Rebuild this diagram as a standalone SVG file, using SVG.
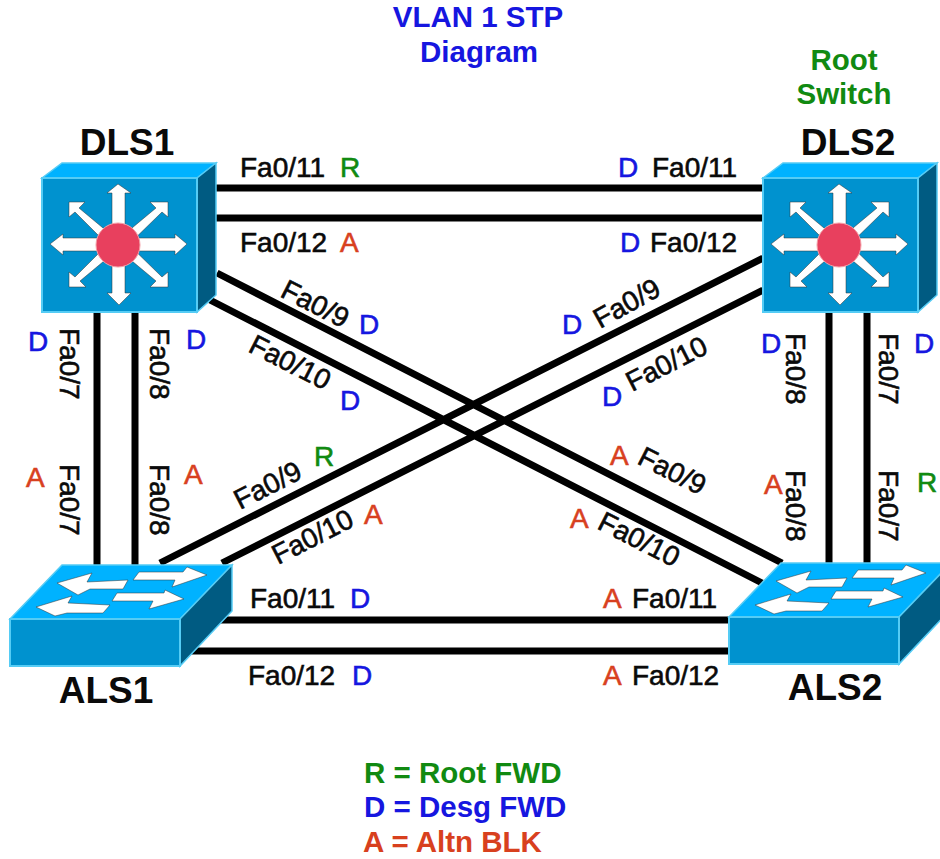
<svg xmlns="http://www.w3.org/2000/svg" width="940" height="859" viewBox="0 0 940 859">
<style>
text{font-family:"Liberation Sans",Arial,sans-serif}
.n{font-size:37px;font-weight:bold;fill:#0a0a0a;text-anchor:middle}
.l{font-size:28px;fill:#0a0a0a;stroke:#0a0a0a;stroke-width:.6}
.b{fill:#1616e0;stroke:#1616e0}.g{fill:#118a11;stroke:#118a11}.r{fill:#d8401e;stroke:#d8401e}
.h{font-size:29.5px;font-weight:bold;text-anchor:middle}
.s{text-anchor:start}
.c{stroke:#000;stroke-width:7;fill:none}
.top{fill:#00b2ff;stroke:#55ccf5;stroke-width:1.5}
.front{fill:#0092cf;stroke:#55ccf5;stroke-width:2}
.side{fill:#005b82;stroke:#55ccf5;stroke-width:1.5}
.ar{fill:#fff;stroke:#333;stroke-width:.5}
</style>
<defs>
<g id="ml">
<polygon class="top" points="42,178 62,163 216,163 197,178"/>
<polygon class="side" points="197,178 216,163 216,295 197,312"/>
<rect class="front" x="42" y="178" width="155" height="134"/>
<polygon class="ar" points="118,184 131,193 125,193 125,245 112,245 112,193 107,193"/>
<polygon class="ar" points="119,305 131,293 125,293 125,245 112,245 112,293 107,293"/>
<polygon class="ar" points="50,244 63,234 63,238 118,238 118,251 63,251 63,255"/>
<polygon class="ar" points="187,244 175,234 175,238 118,238 118,251 175,251 175,255"/>
<polygon class="ar" points="69,202 85,202 79,208 121,243 114,251 75,212 69,217"/>
<polygon class="ar" points="168,202 150,202 156,208 114,243 122,251 162,212 168,217"/>
<polygon class="ar" points="69,287 86,287 80,281 122,246 114,238 75,277 69,272"/>
<polygon class="ar" points="168,287 150,287 156,281 114,246 122,238 162,277 168,272"/>
<circle cx="118" cy="245" r="22" fill="#e8405e" stroke="#f4a0a8" stroke-width="1"/>
</g>
<g id="sw">
<polygon class="top" points="10,619 62,565 232,565 180,619"/>
<polygon class="side" points="180,619 232,565 232,611 180,666"/>
<rect class="front" x="10" y="619" width="170" height="47"/>
<polygon class="ar" points="57,583 92,573 87,582 128,580 123,589 90,589 78,595"/>
<polygon class="ar" points="36,607 72,596 68,603 110,605 103,613 67,613 55,616"/>
<polygon class="ar" points="207,575 187,567 183,572 139,572 133,580 175,580 172,587"/>
<polygon class="ar" points="184,599 165,590 164,593 117,593 112,601 153,601 149,609"/>
</g>
</defs>
<g id="connectors">
<path class="c" d="M216 188H763M216 218H763M220 620H730M190 651H730M97 312V565M135 312V565M829 312V563M867 312V563M217 273L782 563M210 300L762 583M763 258L160 563M763 290L222 563"/>
</g>
<g id="DLS1"><use href="#ml"/><text class="n" x="127" y="155">DLS1</text></g>
<g id="DLS2"><use href="#ml" x="721"/><text class="n" x="848" y="155">DLS2</text></g>
<g id="ALS1"><use href="#sw"/><text class="n" x="106" y="703">ALS1</text></g>
<g id="ALS2"><use href="#sw" x="719" y="-2"/><text class="n" x="835" y="700">ALS2</text></g>
<g id="labels">
<text class="h" fill="#1616e0" x="478" y="27">VLAN 1 STP</text>
<text class="h" fill="#1616e0" x="479" y="62">Diagram</text>
<text class="h" fill="#118a11" x="844" y="70">Root</text>
<text class="h" fill="#118a11" x="844" y="104">Switch</text>
<text class="h s" fill="#118a11" x="364" y="783">R = Root FWD</text>
<text class="h s" fill="#1616e0" x="364" y="817">D = Desg FWD</text>
<text class="h s" fill="#d8401e" x="363" y="852">A = Altn BLK</text>

<text class="l" x="240" y="177">Fa0/11</text><text class="l g" x="340" y="177">R</text>
<text class="l b" x="618" y="177">D</text><text class="l" x="652" y="177">Fa0/11</text>
<text class="l" x="240" y="252">Fa0/12</text><text class="l r" x="340" y="252">A</text>
<text class="l b" x="620" y="252">D</text><text class="l" x="650" y="252">Fa0/12</text>
<text class="l" x="250" y="608">Fa0/11</text><text class="l b" x="350" y="608">D</text>
<text class="l r" x="603" y="608">A</text><text class="l" x="632" y="608">Fa0/11</text>
<text class="l" x="248" y="685">Fa0/12</text><text class="l b" x="352" y="685">D</text>
<text class="l r" x="603" y="685">A</text><text class="l" x="632" y="685">Fa0/12</text>

<text class="l b" x="28" y="351">D</text><text class="l b" x="186" y="349">D</text>
<text class="l r" x="26" y="487">A</text><text class="l r" x="184" y="484">A</text>
<text class="l b" x="761" y="353">D</text><text class="l b" x="914" y="353">D</text>
<text class="l r" x="764" y="494">A</text><text class="l g" x="917" y="492">R</text>
<text class="l" transform="translate(60,328) rotate(90)">Fa0/7</text>
<text class="l" transform="translate(150,328) rotate(90)">Fa0/8</text>
<text class="l" transform="translate(60,464) rotate(90)">Fa0/7</text>
<text class="l" transform="translate(150,464) rotate(90)">Fa0/8</text>
<text class="l" transform="translate(786,333) rotate(90)">Fa0/8</text>
<text class="l" transform="translate(879,333) rotate(90)">Fa0/7</text>
<text class="l" transform="translate(786,470) rotate(90)">Fa0/8</text>
<text class="l" transform="translate(879,470) rotate(90)">Fa0/7</text>

<text class="l" transform="translate(279,296) rotate(27)">Fa0/9</text><text class="l b" x="359" y="334">D</text>
<text class="l" transform="translate(247,351) rotate(27)">Fa0/10</text><text class="l b" x="340" y="410">D</text>
<text class="l" transform="translate(600,329) rotate(-29)">Fa0/9</text><text class="l b" x="562" y="334">D</text>
<text class="l" transform="translate(632,392) rotate(-27)">Fa0/10</text><text class="l b" x="602" y="406">D</text>
<text class="l" transform="translate(240,510) rotate(-27)">Fa0/9</text><text class="l g" x="314" y="466">R</text>
<text class="l" transform="translate(278,565) rotate(-27)">Fa0/10</text><text class="l r" x="364" y="524">A</text>
<text class="l r" x="610" y="465">A</text><text class="l" transform="translate(636,463) rotate(27)">Fa0/9</text>
<text class="l r" x="570" y="528">A</text><text class="l" transform="translate(596,528) rotate(27)">Fa0/10</text>
</g>
</svg>
